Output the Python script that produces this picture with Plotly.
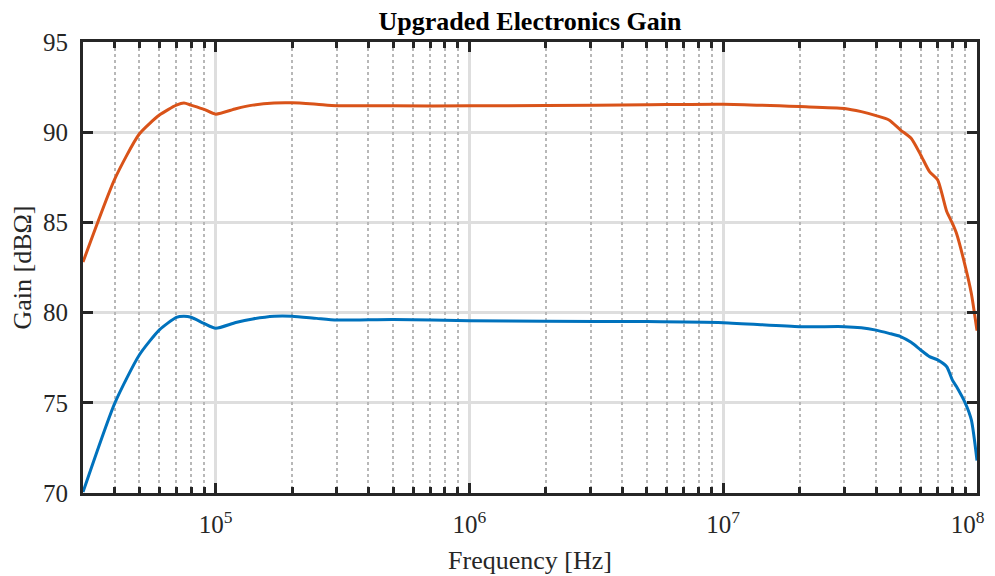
import plotly.graph_objects as go

freq = [3e4, 4e4, 5e4, 6e4, 7e4, 7.5e4, 8e4, 9e4, 1e5, 1.2e5, 1.4e5, 1.7e5, 2e5, 2.5e5, 3e5,
        5e5, 1e6, 2e6, 5e6, 1e7, 2e7, 3e7, 3.5e7, 4e7, 4.5e7, 5e7, 5.5e7, 6e7, 6.5e7,
        7e7, 7.6e7, 8e7, 8.3e7, 9e7, 9.5e7, 1e8]

gain_high = [82.8, 87.4, 89.9, 90.95, 91.5, 91.62, 91.5, 91.27, 91.0, 91.3, 91.5, 91.62, 91.63, 91.55, 91.47,
             91.46, 91.46, 91.48, 91.52, 91.55, 91.42, 91.32, 91.14, 90.92, 90.68, 90.12, 89.66, 88.74, 87.81,
             87.35, 85.6, 84.95, 84.4, 82.54, 81.06, 79.0]

gain_low = [70.05, 74.97, 77.65, 79.04, 79.74, 79.8, 79.74, 79.4, 79.13, 79.45, 79.65, 79.8, 79.8, 79.68, 79.59,
            79.62, 79.55, 79.52, 79.5, 79.44, 79.22, 79.22, 79.16, 79.03, 78.85, 78.67, 78.35, 77.93, 77.56,
            77.38, 77.0, 76.26, 75.9, 74.97, 74.05, 71.8]

x_tickvals = [1e5, 1e6, 1e7, 1e8]
x_ticktext = ["10<sup>5</sup>", "10<sup>6</sup>", "10<sup>7</sup>", "10<sup>8</sup>\u00a0\u00a0\u00a0"]
x_minor_vals = [3e4, 4e4, 5e4, 6e4, 7e4, 8e4, 9e4,
                2e5, 3e5, 4e5, 5e5, 6e5, 7e5, 8e5, 9e5,
                2e6, 3e6, 4e6, 5e6, 6e6, 7e6, 8e6, 9e6,
                2e7, 3e7, 4e7, 5e7, 6e7, 7e7, 8e7, 9e7]
y_tickvals = [70, 75, 80, 85, 90, 95]

font_family = "Liberation Serif"
axis_color = "#262626"
x_range = [4.4771, 8.0]

fig = go.Figure()
# invisible helper so the minor-tick overlay axis renders
fig.add_trace(go.Scatter(x=[freq[0], freq[-1]], y=[gain_low[0], gain_low[-1]], xaxis="x2", mode="markers",
                         marker=dict(opacity=0), hoverinfo="skip", showlegend=False))
fig.add_trace(go.Scatter(x=freq, y=gain_low, mode="lines",
                         line=dict(color="#0072BD", width=3, shape="spline", smoothing=0.6), showlegend=False))
fig.add_trace(go.Scatter(x=freq, y=gain_high, mode="lines",
                         line=dict(color="#D95319", width=3, shape="spline", smoothing=0.6), showlegend=False))

fig.update_layout(
    width=987, height=568,
    margin=dict(l=75, r=18, t=34, b=83),
    paper_bgcolor="white", plot_bgcolor="white",
    font=dict(family=font_family, color=axis_color, size=24),
    title=dict(text="<b>Upgraded Electronics Gain</b>", x=(75 + 969) / 2 / 987, xanchor="center",
               y=0.994, yanchor="top",
               font=dict(family=font_family, size=26, color="black")),
    xaxis=dict(
        type="log", range=x_range,
        tickvals=x_tickvals, ticktext=x_ticktext,
        ticks="inside", ticklen=10, tickwidth=3, tickcolor=axis_color,
        showline=True, linecolor=axis_color, linewidth=3, mirror="ticks",
        showgrid=True, gridcolor="#dedede", gridwidth=3,
        zeroline=False, automargin=False,
        tickfont=dict(size=25), ticklabelstandoff=7, ticklabeloverflow="allow",
        title=dict(text="Frequency [Hz]", font=dict(size=26), standoff=14),
    ),
    xaxis2=dict(
        type="log", range=x_range, overlaying="x", anchor="y", side="bottom",
        tickvals=x_minor_vals, showticklabels=False,
        ticks="inside", ticklen=6, tickwidth=3, tickcolor=axis_color,
        showline=False, mirror="ticks",
        showgrid=True, gridcolor="#b8b8b8", gridwidth=2, griddash="dot",
        zeroline=False, automargin=False,
    ),
    yaxis=dict(
        range=[70, 95], tickvals=y_tickvals,
        ticks="inside", ticklen=10, tickwidth=3, tickcolor=axis_color,
        showline=True, linecolor=axis_color, linewidth=3, mirror="ticks",
        showgrid=True, gridcolor="#dedede", gridwidth=3,
        zeroline=False, automargin=False,
        tickfont=dict(size=25), ticklabelstandoff=7,
        title=dict(text="Gain [dBΩ]", font=dict(size=26), standoff=6),
    ),
)

fig.write_html("out.html")
